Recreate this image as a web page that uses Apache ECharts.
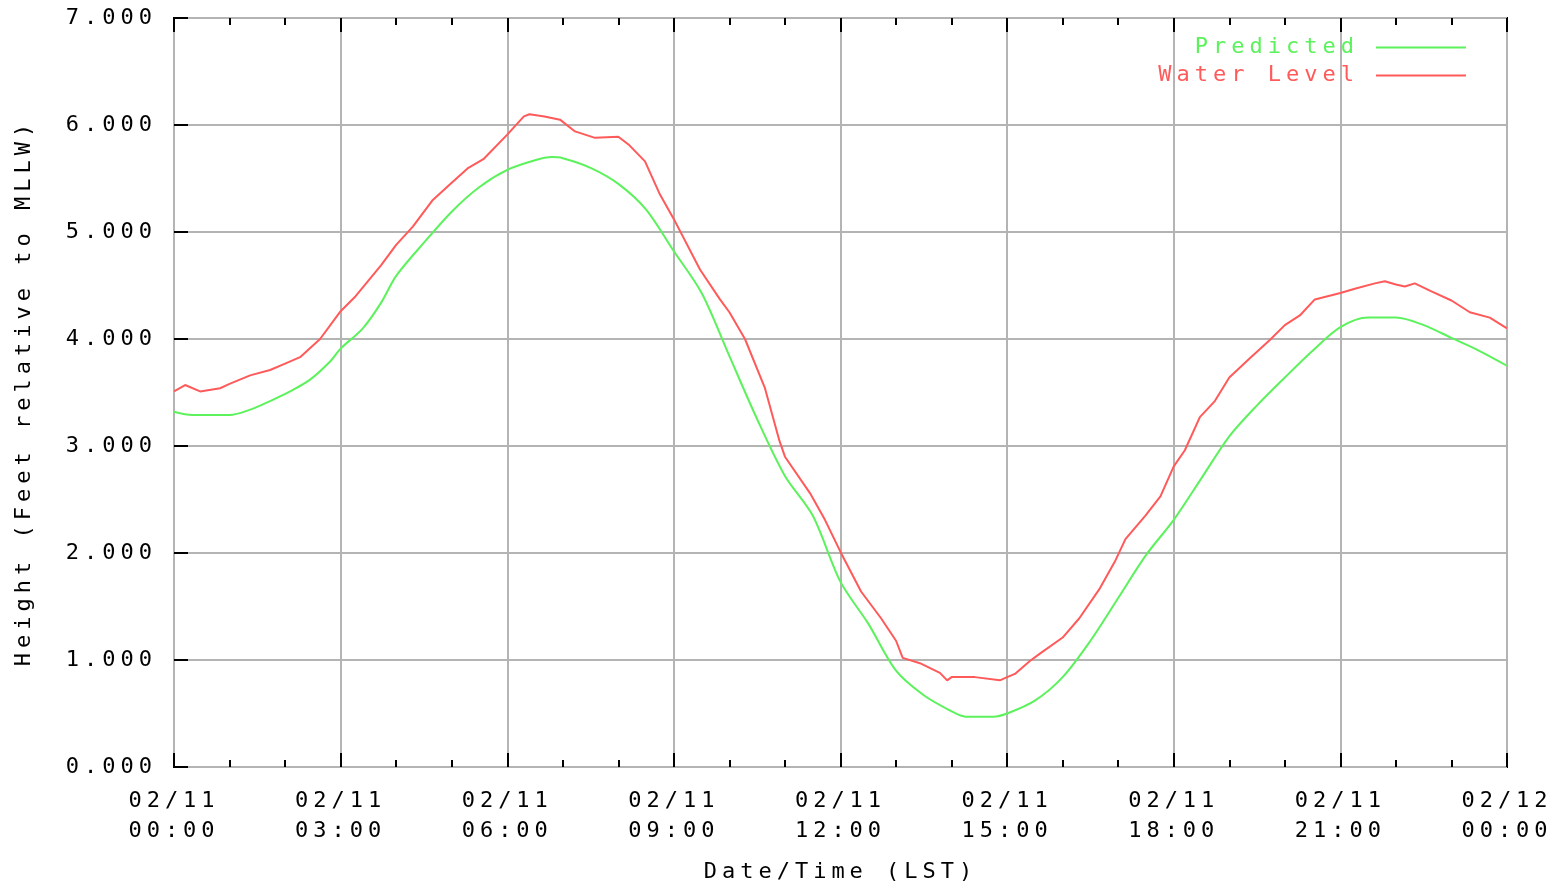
<!DOCTYPE html>
<html>
<head>
<meta charset="utf-8">
<script src="https://cdn.jsdelivr.net/npm/echarts@6/dist/echarts.min.js"></script>
<style>html,body{margin:0;padding:0;background:#fff}#c{width:1557px;height:891px}</style>
</head>
<body>
<div id="c"></div>
<script>
// hours since 02/11 00:00 (LST)
const predHours = [0, 0.33, 1.0, 1.37, 1.73, 2.09, 2.45, 2.81, 3.0, 3.4, 3.73, 4.0, 4.5, 5.0, 5.5, 6.0, 6.5, 6.8, 7.0, 7.5, 8.0, 8.5, 9.0, 9.5, 10.0, 10.5, 11.0, 11.5, 12.0, 12.5, 13.0, 13.5, 14.0, 14.25, 14.5, 14.75, 15.0, 15.5, 16.0, 16.5, 17.0, 17.5, 18.0, 18.5, 19.0, 19.5, 20.0, 20.5, 21.0, 21.5, 22.0, 22.5, 23.0, 23.5, 24.0];
const predValues = [3.32, 3.29, 3.29, 3.34, 3.42, 3.51, 3.62, 3.79, 3.91, 4.10, 4.34, 4.59, 4.90, 5.19, 5.42, 5.58, 5.67, 5.70, 5.69, 5.60, 5.45, 5.21, 4.82, 4.43, 3.84, 3.25, 2.72, 2.35, 1.73, 1.34, 0.90, 0.67, 0.52, 0.47, 0.47, 0.47, 0.50, 0.62, 0.84, 1.18, 1.58, 1.98, 2.31, 2.70, 3.09, 3.38, 3.64, 3.89, 4.11, 4.20, 4.20, 4.13, 4.01, 3.89, 3.75];

const obsHours = [0, 0.2, 0.47, 0.83, 1.0, 1.37, 1.73, 2.0, 2.27, 2.63, 3.0, 3.27, 3.73, 4.0, 4.3, 4.66, 5.0, 5.3, 5.57, 6.0, 6.3, 6.4, 6.67, 6.95, 7.22, 7.58, 8.0, 8.2, 8.48, 8.75, 9.0, 9.47, 9.83, 10.0, 10.28, 10.64, 10.9, 11.0, 11.45, 11.72, 12.0, 12.37, 12.73, 13.0, 13.12, 13.43, 13.79, 13.92, 14.0, 14.42, 14.87, 15.0, 15.14, 15.41, 15.59, 16.0, 16.3, 16.67, 16.94, 17.13, 17.49, 17.76, 18.0, 18.2, 18.47, 18.74, 19.0, 19.37, 19.73, 20.0, 20.27, 20.54, 21.0, 21.26, 21.62, 21.8, 22.0, 22.16, 22.34, 22.62, 23.0, 23.33, 23.69, 24.0];
const obsValues = [3.51, 3.57, 3.51, 3.54, 3.58, 3.66, 3.71, 3.77, 3.83, 4.00, 4.26, 4.40, 4.69, 4.88, 5.05, 5.30, 5.46, 5.60, 5.68, 5.91, 6.08, 6.10, 6.08, 6.05, 5.94, 5.88, 5.89, 5.81, 5.66, 5.35, 5.12, 4.65, 4.37, 4.25, 4.00, 3.54, 3.05, 2.90, 2.56, 2.31, 2.01, 1.64, 1.39, 1.18, 1.02, 0.97, 0.88, 0.81, 0.84, 0.84, 0.81, 0.84, 0.87, 0.99, 1.06, 1.21, 1.39, 1.67, 1.92, 2.13, 2.35, 2.53, 2.81, 2.96, 3.27, 3.42, 3.64, 3.82, 3.99, 4.13, 4.22, 4.37, 4.43, 4.47, 4.52, 4.54, 4.51, 4.49, 4.52, 4.45, 4.36, 4.25, 4.20, 4.10];

const xTickLabels = ['02/11\n00:00', '02/11\n03:00', '02/11\n06:00', '02/11\n09:00', '02/11\n12:00', '02/11\n15:00', '02/11\n18:00', '02/11\n21:00', '02/12\n00:00'];
const seriesNames = ['Predicted', 'Water Level'];
const yTitle = 'Height (Feet relative to MLLW)';
const xTitle = 'Date/Time (LST)';

// widen the monospace text like the original terminal font (letter spacing)
(function () {
  const proto = CanvasRenderingContext2D.prototype;
  const desc = Object.getOwnPropertyDescriptor(proto, 'font');
  if (desc && desc.set && ('letterSpacing' in proto)) {
    Object.defineProperty(proto, 'font', {
      configurable: true,
      get() { return desc.get.call(this); },
      set(v) { desc.set.call(this, v); this.letterSpacing = '5px'; }
    });
  }
})();

const FONT = 'DejaVu Sans Mono';
const FS = 22;
const GREEN = '#5cf25c';
const RED = '#ff5a5a';

const chart = echarts.init(document.getElementById('c'), null, {renderer: 'canvas'});
const pairs = (xs, ys) => xs.map((x, i) => [x, ys[i]]);

chart.setOption({
  animation: false,
  backgroundColor: '#fff',
  grid: {left: 174, right: 50, top: 18, bottom: 113, show: true, borderColor: '#000', borderWidth: 2, containLabel: false},
  legend: {
    orient: 'vertical', right: 86, top: 29, align: 'right',
    itemWidth: 90, itemHeight: 2, itemGap: 1, icon: 'rect',
    textStyle: {fontFamily: FONT, fontSize: FS, padding: [0, 12, 0, 0]},
    data: [
      {name: seriesNames[0], textStyle: {color: GREEN}},
      {name: seriesNames[1], textStyle: {color: RED}}
    ]
  },
  xAxis: [{
    type: 'value', min: 0, max: 24, interval: 3, position: 'bottom',
    name: xTitle, nameLocation: 'middle', nameGap: 92,
    nameTextStyle: {fontFamily: FONT, fontSize: FS, color: '#000'},
    axisLine: {show: false},
    axisTick: {show: true, inside: true, length: 14, lineStyle: {color: '#000', width: 2}},
    minorTick: {show: true, splitNumber: 3, length: 7, lineStyle: {color: '#000', width: 2}},
    splitLine: {show: true, lineStyle: {color: '#b4b4b4', width: 2}},
    axisLabel: {fontFamily: FONT, fontSize: FS, color: '#000', margin: 19, lineHeight: 30,
      formatter: v => xTickLabels[Math.round(v / 3)]}
  }, {
    type: 'value', min: 0, max: 24, interval: 3, position: 'top',
    axisLine: {show: false},
    axisTick: {show: true, inside: true, length: 14, lineStyle: {color: '#000', width: 2}},
    minorTick: {show: true, splitNumber: 3, length: 7, lineStyle: {color: '#000', width: 2}},
    splitLine: {show: false},
    axisLabel: {show: false}
  }],
  yAxis: {
    type: 'value', min: 0, max: 7, interval: 1,
    name: yTitle, nameLocation: 'middle', nameGap: 136, nameRotate: 90,
    nameTextStyle: {fontFamily: FONT, fontSize: FS, color: '#000'},
    axisLine: {show: false},
    axisTick: {show: true, inside: true, length: 14, lineStyle: {color: '#000', width: 2}},
    splitLine: {show: true, lineStyle: {color: '#b4b4b4', width: 2}},
    axisLabel: {fontFamily: FONT, fontSize: FS, color: '#000', margin: 17,
      formatter: v => v.toFixed(3)}
  },
  series: [{
    name: seriesNames[0], type: 'line', xAxisIndex: 0, data: pairs(predHours, predValues),
    showSymbol: false, symbol: 'none', smooth: 0.3, color: GREEN,
    lineStyle: {color: GREEN, width: 2}
  }, {
    name: seriesNames[1], type: 'line', xAxisIndex: 0, data: pairs(obsHours, obsValues),
    showSymbol: false, symbol: 'none', smooth: false, color: RED,
    lineStyle: {color: RED, width: 2}
  }]
});
</script>
</body>
</html>
